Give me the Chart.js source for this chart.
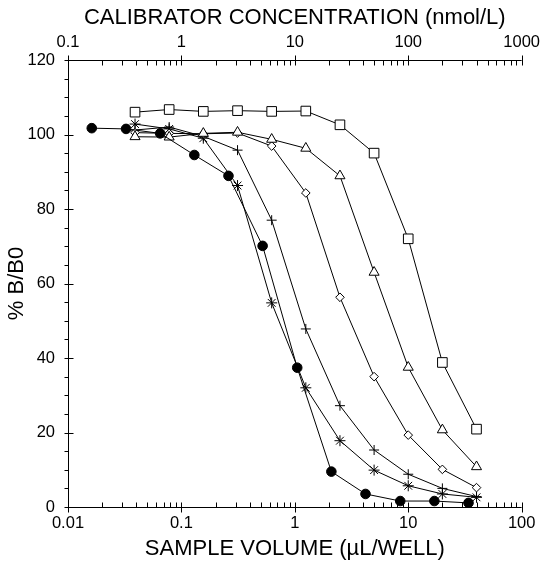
<!DOCTYPE html>
<html>
<head>
<meta charset="utf-8">
<script src="https://cdn.jsdelivr.net/npm/chart.js@4.4.1/dist/chart.umd.min.js"></script>
<style>
  html, body { margin: 0; padding: 0; background: #fff; }
  #wrap { width: 548px; height: 563px; }
</style>
</head>
<body>
<div id="wrap"><canvas id="chart"></canvas></div>
<script>
// sample volume (uL/well) for the dilution series
const volumeCircle = [0.0162, 0.0325, 0.065, 0.13, 0.26, 0.52, 1.05, 2.1, 4.2, 8.5, 17, 34];
const volumeSeries = [0.039, 0.078, 0.156, 0.3125, 0.625, 1.25, 2.5, 5, 10, 20, 40];

// % B/B0 per curve
const bbCircle   = [101.7, 101.5, 100.3, 94.5, 88.9, 70.1, 37.4, 9.5, 3.5, 1.6, 1.6, 1.1];
const bbSquare   = [106.0, 106.7, 106.2, 106.4, 106.2, 106.3, 102.6, 95.0, 72.0, 38.8, 20.9];
const bbTriangle = [99.4, 99.3, 100.3, 100.6, 98.7, 96.3, 88.9, 63.0, 37.5, 20.7, 10.8];
const bbDiamond  = [100.5, 100.3, 100.2, 100.4, 96.9, 84.3, 56.3, 35.0, 19.3, 10.1, 5.2];
const bbPlus     = [101.2, 102.0, 99.5, 95.8, 77.0, 47.8, 27.2, 15.3, 8.8, 5.0, 2.8];
const bbStar     = [102.8, 101.5, 99.0, 86.3, 54.8, 32.0, 17.8, 9.9, 5.7, 3.5, 2.6];

// tick labels
const volumeTicks = [0.01, 0.1, 1, 10, 100];
const volumeTickLabels = ['0.01', '0.1', '1', '10', '100'];
const concTicks = [0.1, 1, 10, 100, 1000];
const concTickLabels = ['0.1', '1', '10', '100', '1000'];
const bbTicks = [0, 20, 40, 60, 80, 100, 120];

const toPoints = (xs, ys) => ys.map((y, i) => ({x: xs[i], y: y}));

function logTicks(min, max, majors) {
  const out = [];
  for (let e = Math.round(Math.log10(min)); e < Math.round(Math.log10(max)); e++) {
    for (let k = 1; k < 10; k++) {
      const v = Number((k * Math.pow(10, e)).toPrecision(6));
      out.push({value: v, major: majors.includes(v)});
    }
  }
  out.push({value: max, major: true});
  return out;
}

const font = "'Liberation Sans', Arial, sans-serif";

function series(data, style, radius, fill) {
  return {
    data: data,
    showLine: true,
    borderColor: '#000',
    borderWidth: 1,
    pointStyle: style,
    pointRadius: radius,
    pointHoverRadius: radius,
    pointBackgroundColor: fill,
    pointBorderColor: '#000',
    pointBorderWidth: 1,
    tension: 0
  };
}

// axis lines and tick marks, drawn like the original plot
const axisTicks = {
  id: 'axisTicks',
  afterDraw(chart) {
    const {ctx, chartArea: a, scales} = chart;
    const L = Math.round(a.left) + 0.5, B = Math.round(a.bottom) + 0.5, T = Math.round(a.top) + 0.5;
    ctx.save();
    ctx.strokeStyle = '#000';
    ctx.lineWidth = 1;
    ctx.beginPath();
    ctx.moveTo(L, T); ctx.lineTo(L, B);
    ctx.moveTo(L, B); ctx.lineTo(a.right, B);
    ctx.moveTo(L, T); ctx.lineTo(a.right, T);
    scales.x.ticks.forEach(t => {
      const px = Math.round(scales.x.getPixelForValue(t.value)) + 0.5;
      ctx.moveTo(px, B + (t.major ? 5 : 0));
      ctx.lineTo(px, B - 5);
    });
    scales.x2.ticks.forEach(t => {
      const px = Math.round(scales.x2.getPixelForValue(t.value)) + 0.5;
      ctx.moveTo(px, T - (t.major ? 5 : 0));
      ctx.lineTo(px, T + 5);
    });
    scales.y.ticks.forEach(t => {
      const py = Math.round(scales.y.getPixelForValue(t.value)) + 0.5;
      const major = bbTicks.includes(t.value);
      ctx.moveTo(L - 4, py);
      ctx.lineTo(L + (major ? 5 : 0), py);
    });
    ctx.stroke();
    ctx.restore();
  }
};

new Chart(document.getElementById('chart'), {
  type: 'scatter',
  data: {
    datasets: [
      series(toPoints(volumeCircle, bbCircle), 'circle', 4.8, '#000'),
      series(toPoints(volumeSeries, bbSquare), 'rect', 6.8, '#fff'),
      series(toPoints(volumeSeries, bbTriangle), 'triangle', 5.8, '#fff'),
      series(toPoints(volumeSeries, bbDiamond), 'rectRot', 4.3, '#fff'),
      series(toPoints(volumeSeries, bbPlus), 'cross', 5, '#fff'),
      series(toPoints(volumeSeries, bbStar), 'star', 5.5, '#fff')
    ]
  },
  plugins: [axisTicks],
  options: {
    responsive: true,
    maintainAspectRatio: false,
    animation: false,
    layout: {padding: {left: 0, right: 23, top: 0, bottom: 0}},
    plugins: {legend: {display: false}, tooltip: {enabled: false}},
    scales: {
      x: {
        type: 'logarithmic',
        position: 'bottom',
        min: 0.01,
        max: 100,
        afterBuildTicks: s => { s.ticks = logTicks(0.01, 100, volumeTicks); },
        afterFit: s => { s.height = 56; },
        grid: {display: false, drawTicks: false},
        border: {display: false},
        ticks: {
          autoSkip: false, maxRotation: 0, padding: 7, color: '#000',
          font: {family: font, size: 16.5},
          callback: v => { const i = volumeTicks.indexOf(v); return i >= 0 ? volumeTickLabels[i] : ''; }
        },
        title: {display: true, text: 'SAMPLE VOLUME (µL/WELL)', color: '#000',
          font: {family: font, size: 22}, padding: {top: 0, bottom: 1}}
      },
      x2: {
        type: 'logarithmic',
        position: 'top',
        min: 0.1,
        max: 1000,
        afterBuildTicks: s => { s.ticks = logTicks(0.1, 1000, concTicks); },
        afterFit: s => { s.height = 60; },
        grid: {display: false, drawTicks: false},
        border: {display: false},
        ticks: {
          autoSkip: false, maxRotation: 0, padding: 8, color: '#000',
          font: {family: font, size: 16.5},
          callback: v => { const i = concTicks.indexOf(v); return i >= 0 ? concTickLabels[i] : ''; }
        },
        title: {display: true, text: 'CALIBRATOR CONCENTRATION (nmol/L)', color: '#000',
          font: {family: font, size: 22}, padding: {top: 5, bottom: 0}}
      },
      y: {
        min: 0,
        max: 120,
        afterFit: s => { s.width = 68; },
        grid: {display: false, drawTicks: false},
        border: {display: false},
        ticks: {
          stepSize: 5, autoSkip: false, padding: 13, color: '#000',
          font: {family: font, size: 16.5},
          callback: v => bbTicks.includes(v) ? String(v) : ''
        },
        title: {display: true, text: '% B/B0', color: '#000',
          font: {family: font, size: 22}, padding: {top: 4, bottom: 0}}
      }
    }
  }
});
</script>
</body>
</html>
